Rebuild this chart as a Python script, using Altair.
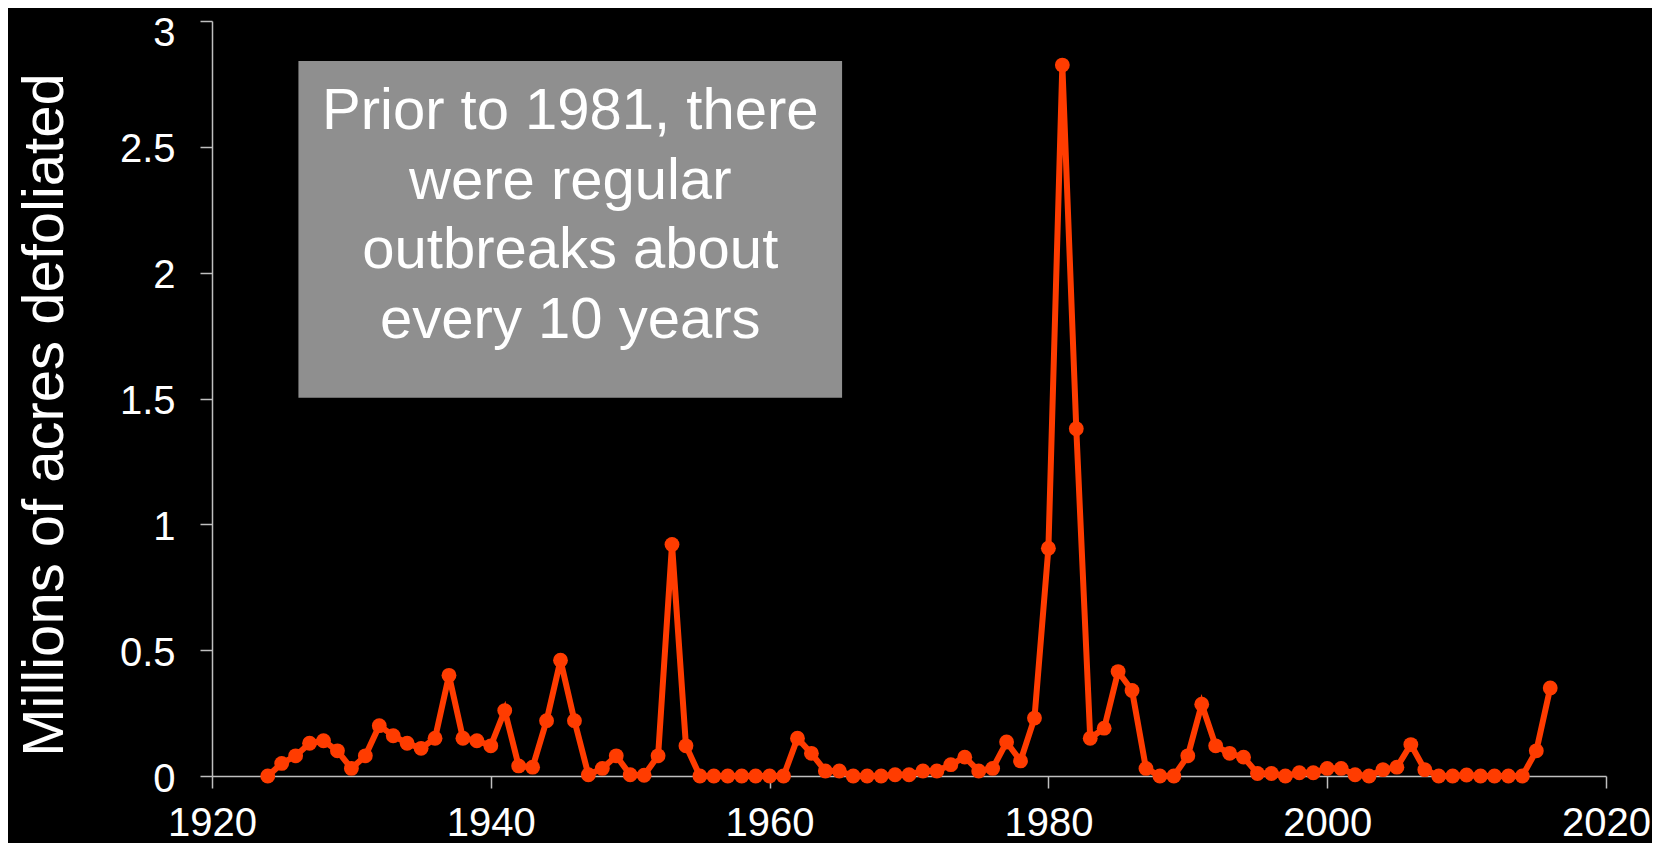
import altair as alt
import pandas as pd

# ---- data ----
years = list(range(1924, 2017))
acres = [
    0.0, 0.05, 0.08, 0.13, 0.14, 0.10, 0.03, 0.08, 0.20, 0.16,      # 1924-1933
    0.13, 0.11, 0.15, 0.40, 0.15, 0.14, 0.12, 0.26, 0.04, 0.035,    # 1934-1943
    0.22, 0.46, 0.22, 0.005, 0.03, 0.08, 0.005, 0.003, 0.08, 0.92,  # 1944-1953
    0.12, 0.0, 0.0, 0.0, 0.0, 0.0, 0.0, 0.0, 0.15, 0.09,            # 1954-1963
    0.02, 0.02, 0.0, 0.0, 0.0, 0.005, 0.005, 0.02, 0.02, 0.045,     # 1964-1973
    0.075, 0.02, 0.03, 0.135, 0.06, 0.23, 0.905, 2.825, 1.38, 0.15, # 1974-1983
    0.19, 0.415, 0.34, 0.03, 0.0, 0.0, 0.08, 0.285, 0.12, 0.09,     # 1984-1993
    0.075, 0.01, 0.01, 0.0, 0.013, 0.013, 0.03, 0.03, 0.005, 0.0,   # 1994-2003
    0.025, 0.035, 0.125, 0.025, 0.0, 0.0, 0.004, 0.0, 0.0, 0.0,     # 2004-2013
    0.0, 0.10, 0.35,                                                # 2014-2016
]
assert len(years) == len(acres)

x_ticks = [1920, 1940, 1960, 1980, 2000, 2020]
y_ticks = [0, 0.5, 1, 1.5, 2, 2.5, 3]
y_title = "Millions of acres defoliated"
note_lines = ["Prior to 1981, there", "were regular", "outbreaks about", "every 10 years"]
note_box_years = [1926.2, 1965.2]
note_box_values = [1.503, 2.841]
note_anchor = [1945.7, 2.569]

df = pd.DataFrame({"year": years, "acres": acres})
box_df = pd.DataFrame({
    "year": [note_box_years[0]], "year2": [note_box_years[1]],
    "acres": [note_box_values[0]], "acres2": [note_box_values[1]],
})
note_df = pd.DataFrame({"year": [note_anchor[0]], "acres": [note_anchor[1]],
                        "note": ["\n".join(note_lines)]})

FONT = "Liberation Sans"
AXIS_GRAY = "#bfbfbf"
RED = "#ff3c00"

x_axis = alt.Axis(values=x_ticks, format="d", title=None, grid=False,
                  labelFontSize=40, labelColor="white", labelFont=FONT,
                  tickSize=12, labelPadding=15, labelFlush=False, labelOverlap=False,
                  domainColor=AXIS_GRAY, tickColor=AXIS_GRAY, domainWidth=1.5, tickWidth=1.5)
y_axis = alt.Axis(values=y_ticks, format="~g", title=y_title, grid=False,
                  labelFontSize=40, labelColor="white", labelFont=FONT,
                  tickSize=12, labelPadding=25,
                  labelOffset={"condition": {"test": "datum.value == 3", "value": 12}, "value": 3},
                  labelFlush=False, labelOverlap=False,
                  domainColor=AXIS_GRAY, tickColor=AXIS_GRAY, domainWidth=1.5, tickWidth=1.5,
                  titleFontSize=58, titleFont=FONT, titleColor="white", titleFontWeight="normal",
                  titleAngle=270, titleX=-150, titleY=393.5, titleAlign="center",
                  titleBaseline="alphabetic")

x_scale = alt.Scale(domain=[1920, 2020], nice=False, zero=False)
y_scale = alt.Scale(domain=[0, 3], nice=False)

X = alt.X("year:Q", scale=x_scale, axis=x_axis)
Y = alt.Y("acres:Q", scale=y_scale, axis=y_axis)

line = alt.Chart(df).mark_line(color=RED, strokeWidth=6).encode(x=X, y=Y)
points = alt.Chart(df).mark_point(filled=True, color=RED, size=220, opacity=1).encode(x=X, y=Y)

box = alt.Chart(box_df).mark_rect(color="#8f8f8f").encode(
    x=X, x2="year2:Q", y=Y, y2="acres2:Q")
note = alt.Chart(note_df).mark_text(
    align="center", baseline="alphabetic", fontSize=58, font=FONT,
    color="white", lineBreak="\n", lineHeight=69.4
).encode(x=X, y=Y, text="note:N")

chart = alt.layer(line, points, box, note).properties(
    width=1394, height=755,
    autosize=alt.AutoSizeParams(type="none"),
    padding={"left": 204, "top": 13, "right": 46, "bottom": 67},
    background="black",
).configure_view(stroke=None)

chart.save("out.html", embed_options={"renderer": "svg", "actions": False})
